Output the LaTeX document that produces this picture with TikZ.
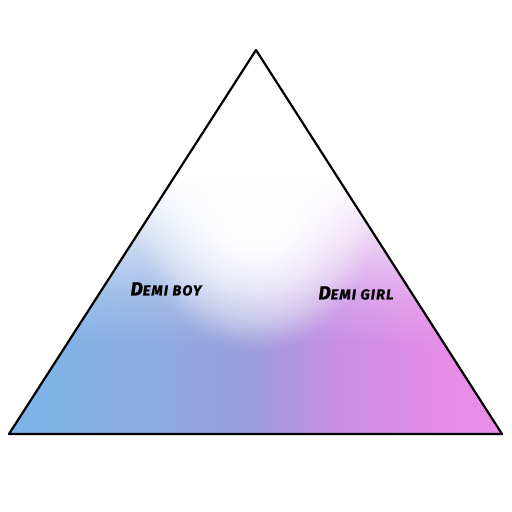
\documentclass[tikz,border=0pt]{standalone}
\usepackage{fontspec}
\setmainfont{Fira Sans}
\newfontfamily\handfont[LetterSpace=8,FakeBold=1.2]{Fira Sans}
\usetikzlibrary{fadings}
\definecolor{cblueA}{HTML}{7CB4E8}
\definecolor{cblueB}{HTML}{80B2E6}
\definecolor{cblueC}{HTML}{8EAAE0}
\definecolor{cmid}{HTML}{9C9EDC}
\definecolor{cpinkC}{HTML}{C88EE4}
\definecolor{cpinkB}{HTML}{E48CE6}
\definecolor{cpinkA}{HTML}{E890E8}
\pgfdeclarehorizontalshading{basegrad}{100bp}{color(0bp)=(cblueA); color(25bp)=(cblueA); color(30bp)=(cblueB); color(41bp)=(cblueC); color(49.5bp)=(cmid); color(58.5bp)=(cpinkC); color(68bp)=(cpinkB); color(75bp)=(cpinkA); color(100bp)=(cpinkA)}
\pgfdeclareradialshading{softcirc}{\pgfpoint{0bp}{0bp}}{color(0bp)=(white); color(8bp)=(white!95!black); color(15bp)=(white!65!black); color(20bp)=(white!35!black); color(23bp)=(white!10!black); color(25bp)=(black); color(50bp)=(black)}
\pgfdeclarefading{softfade}{\pgfuseshading{softcirc}}
\pgfdeclareverticalshading{vsoft}{100bp}{color(0bp)=(black); color(25bp)=(black); color(40bp)=(white!20!black); color(57.5bp)=(white!60!black); color(75bp)=(white); color(100bp)=(white)}
\pgfdeclarefading{vfade}{\pgfuseshading{vsoft}}
\tikzset{
  edge/.style={draw=black, line width=2.2pt, line join=round},
  label/.style={font=\handfont\bfseries\itshape, text=black, inner sep=0pt},
}
\newcommand{\smc}[2]{{\fontsize{19}{19}\selectfont #1}{\fontsize{14.5}{14.5}\selectfont #2}}
\begin{document}
\begin{tikzpicture}[x=1pt,y=1pt]
\useasboundingbox (0,0) rectangle (512,512);
\coordinate (A) at (256,462);
\coordinate (B) at (9,78);
\coordinate (C) at (502,78);
\begin{scope}
  \clip (A) -- (B) -- (C) -- cycle;
  \shade[shading=basegrad] (9,72) rectangle (502,472);
  \fill[white] (0,472) rectangle (512,335);
  \fill[white, path fading=vfade] (0,335) rectangle (512,165);
  \fill[white, path fading=softfade] (256,310) ellipse (125 and 150);
\end{scope}
\draw[edge] (A) -- (B) -- (C) -- cycle;
\node[label] (boy) at (166,223) {\smc{D}{EMI BOY}};
\node[label] (girl) at (356,219) {\smc{D}{EMI GIRL}};
\end{tikzpicture}
\end{document}
